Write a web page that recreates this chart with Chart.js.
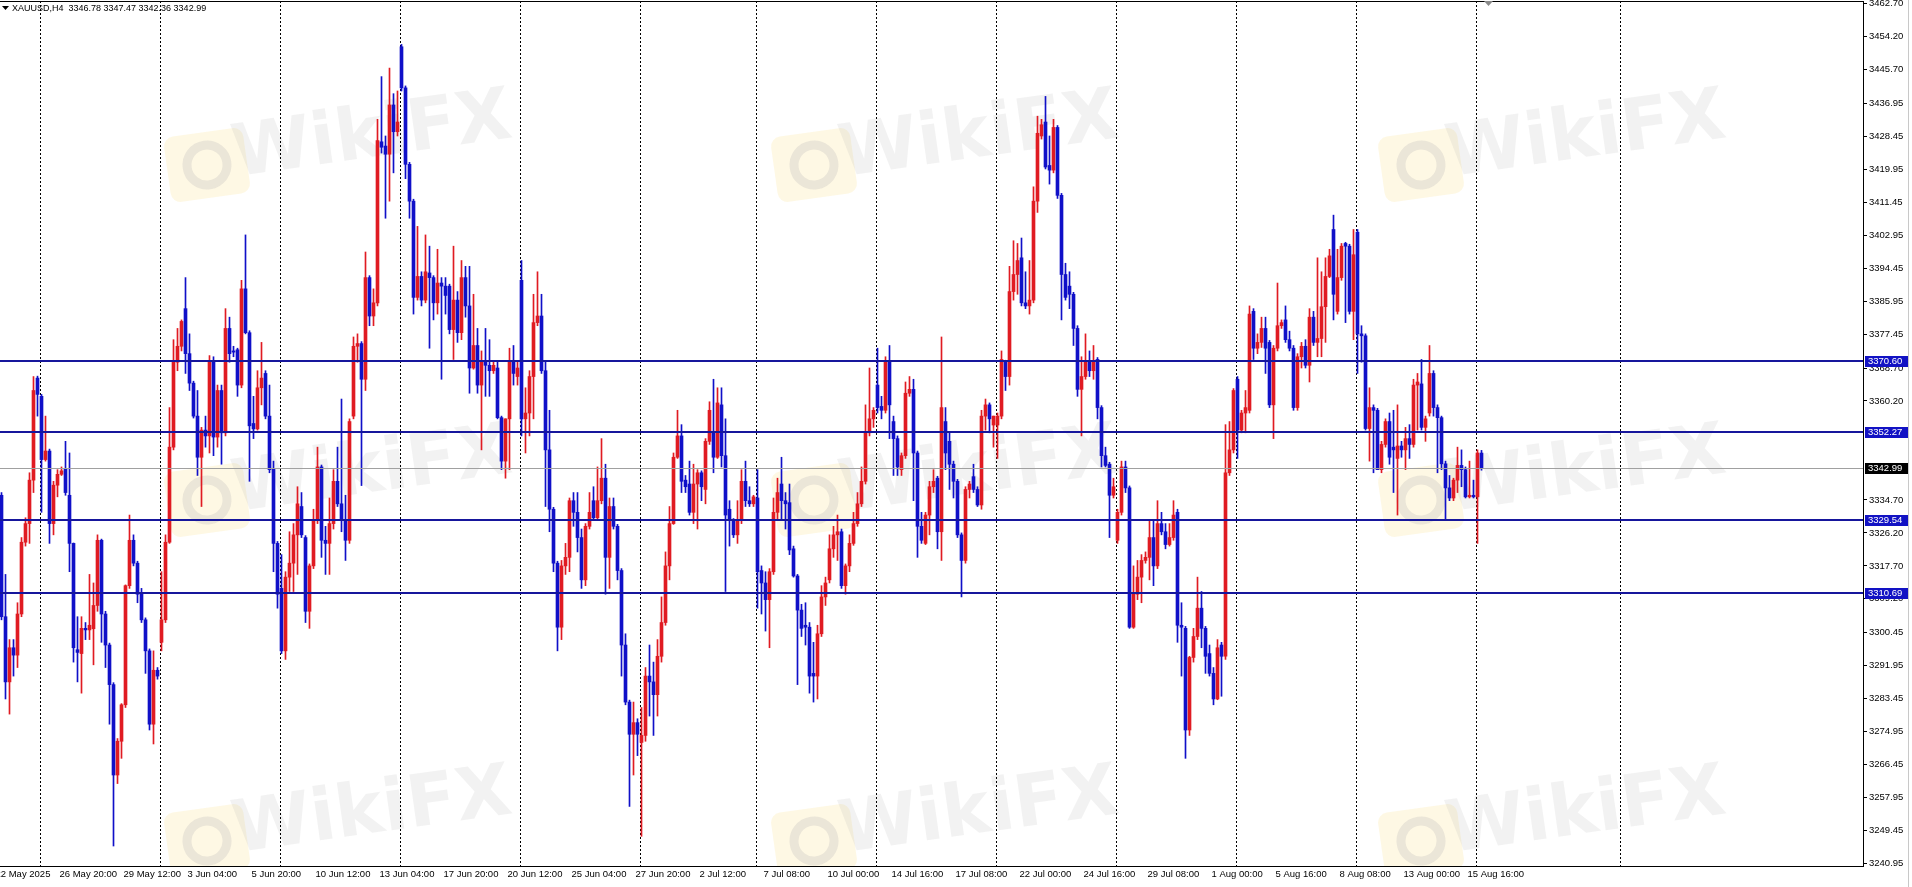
<!DOCTYPE html>
<html>
<head>
<meta charset="utf-8">
<title>XAUUSD,H4</title>
<script src="https://cdn.jsdelivr.net/npm/chart.js@4.4.0/dist/chart.umd.min.js"></script>
<style>
  html, body { margin: 0; padding: 0; background: #fff; }
  canvas { display: block; }
</style>
</head>
<body>
<canvas id="chart" width="1912" height="887"></canvas>
<script>
// XAUUSD H4, 22 May - 18 Aug 2025, one entry per bar (oldest first)
const symbol = "XAUUSD";
const timeframe = "H4";

const opens = [
  3335.9,3304.6,3287.8,3296.6,3294.7,3305.3,3323.8,3328.6,3339.8,3366.1,
  3361.4,3345.1,3347.3,3328.6,3338.5,3341.3,3342.8,3335.9,3323.5,3296.1,
  3295.1,3301.6,3301.2,3301.5,3307.5,3324.3,3305.3,3297.3,3287.1,3263.8,
  3272.5,3281.9,3312.6,3324.3,3318.4,3310.4,3303.8,3295.8,3276.9,3290.8,
  3298.0,3303.8,3323.8,3348.3,3370.2,3374.3,3384.0,3372.4,3364.8,3356.3,
  3345.7,3352.7,3351.2,3370.2,3350.9,3362.9,3352.0,3378.9,3373.1,3373.4,
  3364.3,3389.1,3377.8,3354.4,3353.0,3363.6,3367.3,3356.3,3342.8,3323.5,
  3311.9,3295.8,3314.8,3318.4,3325.7,3333.0,3325.0,3306.0,3317.7,3329.4,
  3343.2,3324.3,3323.5,3328.6,3339.5,3333.7,3329.4,3324.3,3356.3,3374.3,
  3375.0,3365.8,3392.0,3382.1,3385.5,3427.0,3425.9,3423.8,3436.5,3429.6,
  3451.5,3440.9,3421.2,3411.7,3386.9,3392.3,3386.2,3393.2,3392.0,3385.5,
  3390.6,3389.8,3389.8,3378.6,3386.2,3377.8,3392.0,3384.7,3368.7,3374.5,
  3364.3,3370.2,3369.4,3368.0,3368.7,3355.9,3344.7,3355.6,3370.2,3366.5,
  3391.3,3355.6,3357.1,3366.5,3380.4,3382.1,3368.0,3347.6,3332.3,3318.4,
  3301.9,3317.7,3319.9,3334.5,3331.5,3325.0,3314.1,3327.9,3334.5,3330.1,
  3334.5,3340.3,3319.9,3333.0,3327.9,3316.5,3297.3,3282.6,3274.3,3277.3,
  3272.2,3274.0,3289.3,3287.8,3284.5,3294.4,3303.1,3317.7,3328.6,3345.7,
  3351.2,3339.8,3338.8,3331.5,3338.8,3341.7,3337.4,3349.8,3352.0,3345.7,
  3359.2,3346.1,3332.3,3329.4,3325.7,3329.4,3339.5,3334.5,3333.7,3335.2,
  3316.5,3313.3,3309.0,3316.2,3331.5,3338.8,3334.5,3334.0,3322.1,3315.1,
  3306.3,3302.4,3301.9,3290.0,3289.3,3300.2,3309.7,3314.1,3322.1,3325.7,
  3326.5,3312.6,3317.7,3323.5,3328.6,3333.7,3339.5,3352.0,3355.6,3364.3,
  3358.8,3357.8,3370.2,3354.9,3350.5,3342.5,3346.1,3362.2,3363.2,3346.8,
  3327.9,3323.5,3330.8,3338.1,3340.3,3326.5,3354.9,3349.8,3343.9,3339.5,
  3325.7,3319.1,3337.4,3340.7,3337.4,3333.4,3356.3,3359.2,3354.0,3354.0,
  3356.3,3370.2,3366.5,3388.4,3392.8,3397.1,3385.5,3384.7,3386.2,3411.7,
  3428.5,3432.1,3420.9,3419.7,3430.7,3413.2,3392.8,3389.8,3387.7,3378.9,
  3363.2,3366.5,3370.2,3368.0,3370.9,3358.5,3346.1,3343.9,3335.9,3324.3,
  3331.5,3343.2,3337.8,3301.9,3310.4,3314.8,3319.1,3319.9,3325.0,3317.7,
  3328.6,3326.5,3323.2,3325.0,3331.5,3302.4,3301.6,3275.4,3294.1,3299.5,
  3306.8,3301.6,3295.1,3290.0,3283.4,3297.3,3294.4,3341.7,3347.6,3365.8,
  3352.7,3357.1,3357.8,3383.3,3373.8,3375.3,3378.9,3375.3,3359.2,3373.8,
  3379.6,3381.1,3376.0,3373.8,3358.5,3371.6,3374.3,3369.4,3381.8,3375.3,
  3376.3,3384.5,3392.3,3404.4,3383.3,3392.0,3400.8,3400.1,3383.3,3403.7,
  3377.5,3377.0,3353.1,3358.5,3357.8,3342.5,3349.0,3354.9,3348.3,3345.4,
  3348.6,3347.6,3350.5,3349.0,3364.3,3364.6,3353.4,3357.1,3367.3,3358.5,
  3355.9,3344.0,3337.8,3335.2,3339.8,3343.6,3342.5,3335.5,3335.9,3335.5,
  3346.78
];

const highs = [
  3336.6,3315.5,3298.7,3298.7,3308.2,3325.0,3330.1,3341.7,3366.5,3366.6,
  3361.9,3356.3,3347.8,3339.5,3342.5,3343.2,3349.8,3346.8,3323.6,3304.6,
  3304.6,3303.1,3315.5,3313.3,3325.7,3324.6,3306.0,3297.8,3287.6,3273.2,
  3282.2,3312.8,3330.8,3325.7,3318.9,3311.9,3304.3,3296.3,3295.8,3291.5,
  3316.2,3325.7,3358.5,3376.0,3378.9,3381.1,3392.0,3377.5,3365.3,3362.9,
  3353.4,3356.3,3371.9,3371.6,3364.3,3364.3,3384.0,3381.8,3374.3,3373.8,
  3391.3,3403.0,3378.3,3361.4,3368.0,3375.3,3368.0,3364.3,3344.7,3324.0,
  3320.6,3316.2,3326.5,3328.6,3338.1,3336.6,3325.5,3318.2,3332.3,3348.3,
  3343.7,3327.9,3335.2,3342.5,3348.3,3360.7,3335.9,3355.6,3376.7,3377.5,
  3375.5,3398.6,3392.5,3389.1,3432.8,3443.8,3428.5,3446.0,3439.4,3440.1,
  3452.1,3441.4,3421.7,3412.2,3405.2,3393.5,3403.0,3400.1,3392.5,3399.3,
  3392.0,3392.0,3390.3,3400.1,3388.4,3396.4,3394.9,3394.9,3387.7,3378.9,
  3373.1,3378.9,3376.0,3370.2,3370.2,3356.3,3355.6,3373.8,3374.5,3370.2,
  3396.4,3363.6,3368.0,3387.7,3393.5,3387.7,3370.2,3357.8,3332.8,3318.9,
  3319.1,3323.5,3335.2,3336.6,3336.6,3327.2,3328.6,3336.6,3338.1,3343.2,
  3350.5,3343.9,3335.2,3335.2,3328.4,3317.0,3300.2,3283.1,3282.6,3278.3,
  3281.2,3291.5,3297.3,3292.9,3298.7,3309.7,3321.3,3333.0,3346.8,3357.8,
  3354.1,3341.0,3344.7,3343.9,3342.5,3342.2,3350.5,3360.0,3365.8,3363.6,
  3363.6,3355.6,3334.5,3329.9,3334.5,3342.5,3344.7,3338.1,3335.9,3342.5,
  3317.7,3316.2,3317.0,3335.2,3340.3,3345.7,3336.6,3338.8,3322.8,3315.5,
  3307.8,3308.2,3303.1,3298.0,3302.4,3312.6,3314.8,3325.7,3327.9,3330.8,
  3327.2,3318.2,3325.7,3331.5,3336.6,3343.2,3359.2,3368.7,3358.5,3373.8,
  3361.4,3371.6,3374.5,3356.3,3351.2,3346.8,3365.1,3366.5,3365.8,3347.3,
  3331.5,3331.5,3339.5,3342.5,3340.8,3376.7,3358.5,3352.0,3344.7,3340.0,
  3326.2,3338.1,3339.5,3343.9,3338.1,3357.8,3360.7,3359.7,3356.3,3357.1,
  3373.1,3370.7,3394.9,3401.5,3400.8,3402.2,3393.5,3396.4,3415.4,3433.6,
  3432.8,3438.7,3428.5,3432.8,3431.2,3413.7,3395.7,3393.5,3388.2,3379.6,
  3371.6,3377.5,3373.1,3374.5,3371.4,3359.0,3348.3,3344.4,3340.3,3332.3,
  3344.7,3344.7,3338.3,3317.7,3319.1,3320.6,3321.3,3329.4,3329.4,3334.5,
  3331.5,3328.6,3328.6,3334.5,3332.3,3308.2,3302.1,3294.4,3301.6,3314.8,
  3311.1,3302.1,3297.3,3291.5,3298.7,3298.0,3354.1,3354.9,3363.4,3366.5,
  3357.8,3362.9,3384.7,3384.0,3377.5,3381.8,3381.8,3375.8,3374.5,3390.6,
  3381.1,3384.7,3378.2,3374.5,3372.4,3375.3,3376.0,3384.0,3383.3,3397.1,
  3393.5,3397.1,3399.3,3408.1,3399.3,3400.8,3401.1,3400.6,3404.4,3404.4,
  3379.6,3377.5,3363.6,3359.2,3358.3,3349.8,3355.6,3357.1,3357.8,3359.2,
  3349.8,3353.4,3354.1,3365.8,3367.3,3370.9,3356.3,3374.5,3368.0,3359.2,
  3356.3,3344.7,3341.0,3340.3,3348.3,3347.6,3343.2,3344.7,3339.8,3347.6,
  3347.47
];

const lows = [
  3303.8,3283.4,3279.5,3289.3,3291.5,3304.6,3322.8,3323.5,3336.6,3356.3,
  3331.5,3344.7,3323.5,3325.7,3335.5,3341.0,3335.9,3316.2,3292.9,3287.8,
  3284.9,3298.7,3298.7,3292.2,3306.0,3298.0,3291.5,3276.9,3245.5,3261.6,
  3268.1,3281.2,3311.9,3317.7,3308.2,3303.1,3290.0,3275.4,3271.8,3288.5,
  3295.8,3303.1,3323.5,3347.6,3368.0,3373.1,3367.3,3362.9,3355.8,3341.0,
  3333.0,3348.3,3346.8,3346.1,3348.3,3343.9,3351.2,3370.2,3371.6,3361.4,
  3363.6,3377.5,3339.5,3350.5,3352.7,3359.2,3355.6,3341.7,3316.2,3306.8,
  3295.1,3293.6,3311.1,3311.1,3315.5,3325.0,3303.1,3301.6,3317.0,3328.6,
  3319.9,3315.5,3315.5,3327.2,3333.0,3326.5,3319.1,3323.5,3355.6,3370.2,
  3338.4,3362.9,3379.6,3379.6,3384.7,3424.1,3407.3,3411.7,3419.0,3428.5,
  3440.1,3417.5,3407.3,3382.6,3386.2,3384.7,3385.5,3373.8,3381.1,3382.6,
  3365.8,3382.6,3377.5,3370.9,3375.3,3376.0,3381.8,3362.2,3368.4,3362.2,
  3347.6,3361.4,3361.4,3367.3,3355.6,3342.5,3340.3,3342.5,3364.3,3364.3,
  3351.2,3346.8,3351.2,3355.6,3379.6,3367.3,3333.0,3326.5,3316.2,3295.8,
  3298.7,3315.5,3316.2,3327.9,3321.3,3311.9,3312.6,3327.2,3329.4,3329.4,
  3333.7,3310.4,3311.9,3327.2,3314.1,3289.3,3281.9,3255.7,3263.8,3268.8,
  3248.0,3272.5,3279.0,3274.0,3279.0,3292.9,3302.4,3314.1,3328.4,3345.4,
  3336.6,3336.6,3330.8,3328.6,3327.2,3334.5,3333.7,3349.0,3341.7,3345.4,
  3343.2,3311.1,3322.8,3325.0,3323.5,3328.6,3333.0,3333.0,3333.0,3306.8,
  3305.3,3300.9,3296.6,3315.5,3329.4,3329.7,3327.2,3320.6,3314.8,3287.1,
  3299.5,3297.3,3284.9,3282.6,3283.4,3299.5,3307.5,3313.3,3319.9,3319.1,
  3311.9,3310.4,3316.2,3323.0,3327.9,3333.0,3338.8,3351.2,3353.4,3357.1,
  3355.6,3357.1,3350.5,3341.0,3341.0,3341.0,3345.4,3361.4,3334.5,3319.9,
  3323.5,3323.2,3325.7,3336.6,3322.1,3319.1,3342.5,3337.4,3335.2,3325.0,
  3309.7,3318.4,3335.2,3336.6,3333.0,3332.3,3352.7,3352.0,3348.3,3345.4,
  3355.6,3362.9,3364.3,3386.2,3387.7,3384.7,3384.0,3382.6,3385.5,3408.8,
  3427.7,3420.0,3416.1,3419.0,3412.4,3381.1,3386.2,3384.0,3374.5,3361.4,
  3351.2,3365.8,3366.5,3365.8,3355.6,3343.2,3343.2,3325.0,3335.2,3323.5,
  3330.8,3336.6,3301.6,3301.6,3309.0,3308.2,3318.4,3314.1,3312.6,3317.0,
  3325.7,3322.1,3322.8,3324.3,3298.0,3289.3,3268.1,3274.0,3292.9,3298.7,
  3296.6,3290.0,3289.3,3281.9,3283.2,3284.1,3293.6,3341.0,3346.8,3345.4,
  3352.0,3352.0,3357.1,3370.9,3372.4,3374.0,3367.3,3358.5,3350.5,3373.1,
  3378.9,3375.3,3373.1,3357.8,3357.8,3368.7,3368.7,3365.1,3374.5,3371.6,
  3371.6,3375.3,3392.0,3381.1,3382.6,3391.3,3380.4,3382.6,3376.0,3367.3,
  3370.2,3352.7,3344.7,3341.7,3342.5,3341.7,3348.3,3343.9,3336.6,3330.8,
  3345.7,3342.5,3345.4,3348.3,3352.7,3352.7,3349.8,3356.3,3356.3,3341.7,
  3342.5,3329.7,3334.5,3334.5,3336.6,3338.1,3335.2,3335.2,3335.2,3323.5,
  3342.36
];

const closes = [
  3304.6,3287.8,3296.6,3294.7,3305.3,3323.8,3328.6,3339.8,3362.9,3361.9,
  3345.1,3347.3,3328.6,3338.5,3341.3,3342.2,3336.6,3323.5,3296.6,3295.4,
  3301.6,3301.2,3302.4,3307.5,3324.3,3305.3,3297.3,3287.1,3263.8,3272.5,
  3281.9,3312.6,3324.3,3318.4,3310.4,3303.8,3295.8,3276.9,3290.8,3289.3,
  3303.8,3323.8,3348.3,3370.2,3374.3,3380.7,3372.4,3364.8,3356.3,3345.7,
  3352.7,3351.2,3370.2,3350.9,3362.9,3352.0,3378.9,3372.4,3372.8,3364.3,
  3389.1,3377.8,3353.8,3353.0,3363.6,3366.1,3356.3,3342.5,3323.5,3310.4,
  3295.8,3314.8,3318.4,3325.7,3333.7,3325.7,3306.0,3317.7,3329.4,3343.2,
  3324.3,3323.5,3328.6,3339.5,3333.7,3329.4,3324.3,3354.9,3374.3,3375.0,
  3365.8,3392.0,3382.1,3385.5,3427.3,3425.6,3423.8,3436.5,3429.6,3432.1,
  3440.9,3421.2,3411.7,3386.9,3392.3,3386.2,3393.5,3392.0,3385.5,3390.6,
  3389.8,3387.4,3378.6,3386.2,3377.8,3392.0,3384.7,3368.7,3374.5,3364.3,
  3370.2,3369.4,3368.0,3369.4,3355.9,3344.7,3355.6,3370.2,3367.3,3368.7,
  3355.6,3357.1,3366.5,3380.4,3382.1,3368.0,3347.6,3332.3,3318.4,3301.9,
  3317.7,3319.9,3334.5,3331.5,3325.0,3314.1,3327.9,3331.5,3330.1,3334.5,
  3340.3,3319.9,3333.0,3327.9,3316.5,3297.3,3282.6,3274.3,3277.3,3274.3,
  3274.0,3289.3,3287.8,3284.5,3294.4,3303.1,3317.7,3328.6,3345.7,3351.2,
  3339.5,3338.1,3331.5,3338.8,3341.7,3338.1,3349.8,3357.8,3345.7,3359.7,
  3346.1,3330.8,3329.4,3325.7,3329.4,3339.5,3334.5,3333.7,3335.5,3316.2,
  3313.3,3309.0,3316.2,3331.5,3336.6,3334.5,3333.7,3321.8,3315.1,3306.3,
  3301.6,3301.9,3289.3,3289.3,3300.2,3309.7,3313.3,3322.1,3325.7,3326.5,
  3312.6,3317.7,3323.5,3328.6,3333.7,3339.5,3352.0,3355.6,3357.8,3358.5,
  3357.8,3370.2,3359.2,3350.5,3343.2,3346.1,3362.2,3363.2,3346.8,3327.9,
  3324.3,3330.8,3338.1,3339.5,3326.5,3358.5,3346.8,3343.9,3339.5,3325.7,
  3319.1,3337.4,3338.8,3337.4,3333.4,3356.3,3359.2,3355.6,3356.3,3356.3,
  3370.9,3366.5,3388.4,3392.8,3396.4,3385.5,3384.7,3386.2,3411.7,3429.2,
  3431.4,3420.5,3419.7,3430.7,3413.2,3392.8,3386.9,3387.7,3378.9,3363.2,
  3366.5,3370.2,3368.0,3370.2,3358.5,3346.1,3343.6,3335.9,3338.1,3331.5,
  3343.2,3337.8,3301.9,3310.4,3314.8,3319.1,3319.9,3325.0,3317.7,3328.6,
  3326.5,3323.2,3325.0,3330.8,3302.4,3301.9,3275.4,3294.1,3299.5,3306.8,
  3301.6,3294.4,3290.0,3283.4,3296.6,3294.4,3341.7,3347.6,3362.9,3352.7,
  3357.1,3358.5,3382.6,3373.8,3375.3,3378.9,3373.8,3359.2,3373.8,3379.6,
  3380.4,3376.0,3373.8,3358.5,3371.6,3374.3,3369.4,3381.8,3375.3,3376.3,
  3384.5,3392.3,3397.6,3387.7,3392.0,3400.1,3400.1,3383.3,3397.9,3377.5,
  3377.0,3353.1,3358.5,3357.8,3342.5,3349.0,3354.9,3345.7,3347.6,3348.6,
  3347.6,3350.5,3349.0,3364.3,3365.1,3353.4,3355.6,3367.3,3358.5,3355.9,
  3344.0,3337.8,3335.2,3339.8,3343.6,3342.5,3335.5,3335.9,3335.5,3346.8,
  3342.99
];

// time axis labels (MT4 puts one every 16 bars) and the bar they sit on
const timeLabels = ["22 May 2025","26 May 20:00","29 May 12:00","3 Jun 04:00","5 Jun 20:00","10 Jun 12:00",
  "13 Jun 04:00","17 Jun 20:00","20 Jun 12:00","25 Jun 04:00","27 Jun 20:00","2 Jul 12:00","7 Jul 08:00",
  "10 Jul 00:00","14 Jul 16:00","17 Jul 08:00","22 Jul 00:00","24 Jul 16:00","29 Jul 08:00","1 Aug 00:00",
  "5 Aug 16:00","8 Aug 08:00","13 Aug 00:00","15 Aug 16:00"];
const labelBars = [0,16,32,48,64,80,96,112,128,144,160,176,192,208,224,240,256,272,288,304,320,336,352,368];

// week separators (Monday 00:00 bars)
const separatorBars = [11,41,71,101,131,161,190,220,250,280,310,340,370,406];

// price scale labels as printed
const priceTicks = [3462.70,3454.20,3445.70,3436.95,3428.45,3419.95,3411.45,3402.95,3394.45,3385.95,
  3377.45,3368.70,3360.20,3334.70,3326.20,3317.70,3309.20,3300.45,3291.95,3283.45,3274.95,3266.45,
  3257.95,3249.45,3240.95];

// horizontal levels drawn on the chart, and the last bid
const levels = [3370.60, 3352.27, 3329.54, 3310.69];
const bidPrice = 3342.99;

const BULL = "#e01b22";
const BEAR = "#1010c8";
const LEVEL = "#16169c";
const FONT = '"Liberation Sans", Arial, sans-serif';

const barNo = closes.map((c, i) => i + 1);
const colors = closes.map((c, i) => c >= opens[i] ? BULL : BEAR);
const bodies = barNo.map((x, i) => ({ x, y: [opens[i], closes[i]] }));
const wicks = barNo.map((x, i) => ({ x, y: [lows[i], highs[i]] }));

function crisp(v) { return Math.round(v) + 0.5; }

const overlay = {
  id: "overlay",
  beforeDatasetsDraw(chart) {
    const { ctx, chartArea: a, scales: { x } } = chart;
    ctx.save();
    ctx.beginPath();
    ctx.rect(a.left, a.top, a.right - a.left, a.bottom - a.top);
    ctx.clip();
    // watermark
    [0, 607, 1214].forEach(dx => {
      [0, 335, 676].forEach(dy => {
        ctx.save();
        ctx.translate(207 + dx, 165 + dy);
        ctx.rotate(-0.14);
        ctx.fillStyle = "rgba(250, 222, 130, 0.22)";
        ctx.beginPath();
        ctx.roundRect(-40, -33, 80, 66, 10);
        ctx.fill();
        ctx.strokeStyle = "rgba(110, 110, 135, 0.13)";
        ctx.lineWidth = 9;
        ctx.beginPath();
        ctx.arc(0, 0, 20, 0, Math.PI * 2);
        ctx.stroke();
        ctx.restore();

        ctx.save();
        ctx.translate(372 + dx, 138 + dy);
        ctx.rotate(-0.14);
        ctx.font = 'bold 72px "DejaVu Sans", sans-serif';
        ctx.textAlign = "center";
        ctx.textBaseline = "middle";
        ctx.fillStyle = "rgba(175, 175, 175, 0.16)";
        ctx.fillText("WikiFX", 0, 0);
        ctx.restore();
      });
    });
    // dotted week separators
    ctx.strokeStyle = "#000";
    ctx.lineWidth = 1;
    ctx.setLineDash([2, 2]);
    separatorBars.forEach(b => {
      const px = crisp(x.getPixelForValue(b - 0.2) - 0.5);
      ctx.beginPath();
      ctx.moveTo(px, a.top);
      ctx.lineTo(px, a.bottom);
      ctx.stroke();
    });
    ctx.restore();
  },
  afterDatasetsDraw(chart) {
    const { ctx, chartArea: a, scales: { y } } = chart;
    ctx.save();
    ctx.fillStyle = "#a0a0a0";
    ctx.fillRect(a.left, Math.round(y.getPixelForValue(bidPrice)), a.right - a.left, 1);
    ctx.fillStyle = LEVEL;
    levels.forEach(v => {
      ctx.fillRect(a.left, Math.round(y.getPixelForValue(v)) - 1, a.right - a.left, 2);
    });
    ctx.restore();
  },
  afterDraw(chart) {
    const { ctx, chartArea: a, scales: { y } } = chart;
    ctx.save();
    // top frame and outer window edge
    ctx.fillStyle = "#000";
    ctx.fillRect(0, 1, a.right, 1);
    ctx.fillStyle = "#c8c8c8";
    ctx.fillRect(1908, 0, 1, chart.height);
    // chart shift marker
    ctx.fillStyle = "#8a8a8a";
    ctx.beginPath();
    ctx.moveTo(1484, 1); ctx.lineTo(1493, 1); ctx.lineTo(1488.5, 6); ctx.closePath();
    ctx.fill();
    // price boxes on the scale
    ctx.font = "9.5px " + FONT;
    ctx.textBaseline = "middle";
    ctx.textAlign = "left";
    const box = (v, bg) => {
      const py = Math.round(y.getPixelForValue(v));
      ctx.fillStyle = bg;
      ctx.fillRect(a.right + 2, py - 5, 43, 11);
      ctx.fillStyle = "#fff";
      ctx.fillText(v.toFixed(2), a.right + 5, py + 0.5);
    };
    levels.forEach(v => box(v, "#1212c4"));
    box(bidPrice, "#000");
    // header
    const last = closes.length - 1;
    ctx.font = "9px " + FONT;
    ctx.fillStyle = "#000";
    ctx.beginPath();
    ctx.moveTo(2, 6); ctx.lineTo(9, 6); ctx.lineTo(5.5, 10); ctx.closePath();
    ctx.fill();
    const head = symbol + "," + timeframe + "  " +
      [opens[last], highs[last], lows[last], closes[last]].map(v => v.toFixed(2)).join(" ");
    ctx.fillText(head, 12, 9);
    ctx.restore();
  }
};

new Chart(document.getElementById("chart"), {
  type: "bar",
  data: {
    datasets: [
      { data: wicks, backgroundColor: colors, borderWidth: 0, grouped: false,
        barThickness: 1, maxBarThickness: 1, order: 2 },
      { data: bodies, backgroundColor: colors, borderWidth: 0, grouped: false,
        barThickness: 3, maxBarThickness: 3, minBarLength: 1, order: 1 }
    ]
  },
  options: {
    responsive: false,
    animation: false,
    devicePixelRatio: 1,
    layout: { padding: { top: 1, left: 0, right: 0, bottom: 0 } },
    plugins: { legend: { display: false }, tooltip: { enabled: false } },
    scales: {
      x: {
        type: "linear",
        min: 0.625,
        max: 466.375,
        offset: false,
        grid: { display: false, drawTicks: false },
        border: { display: true, color: "#000", width: 1 },
        ticks: {
          autoSkip: false, maxRotation: 0, minRotation: 0, align: "start", padding: 3,
          color: "#000", font: { family: FONT, size: 9.5 },
          callback: (v, i) => timeLabels[i]
        },
        afterBuildTicks: s => { s.ticks = labelBars.map(b => ({ value: b - 0.5 })); },
        afterFit: s => { s.height = 21; s.paddingLeft = 0; s.paddingRight = 0; }
      },
      y: {
        position: "right",
        min: 3240.35,
        max: 3463.29,
        grid: { drawOnChartArea: false, drawTicks: true, tickLength: 4, color: "#000" },
        border: { display: true, color: "#000", width: 1 },
        ticks: {
          padding: 2, color: "#000", font: { family: FONT, size: 9.5 },
          callback: v => Number(v).toFixed(2)
        },
        afterBuildTicks: s => { s.ticks = priceTicks.map(v => ({ value: v })); },
        afterFit: s => { s.width = 49; s.paddingTop = 0; s.paddingBottom = 0; }
      }
    }
  },
  plugins: [overlay]
});
</script>
</body>
</html>
